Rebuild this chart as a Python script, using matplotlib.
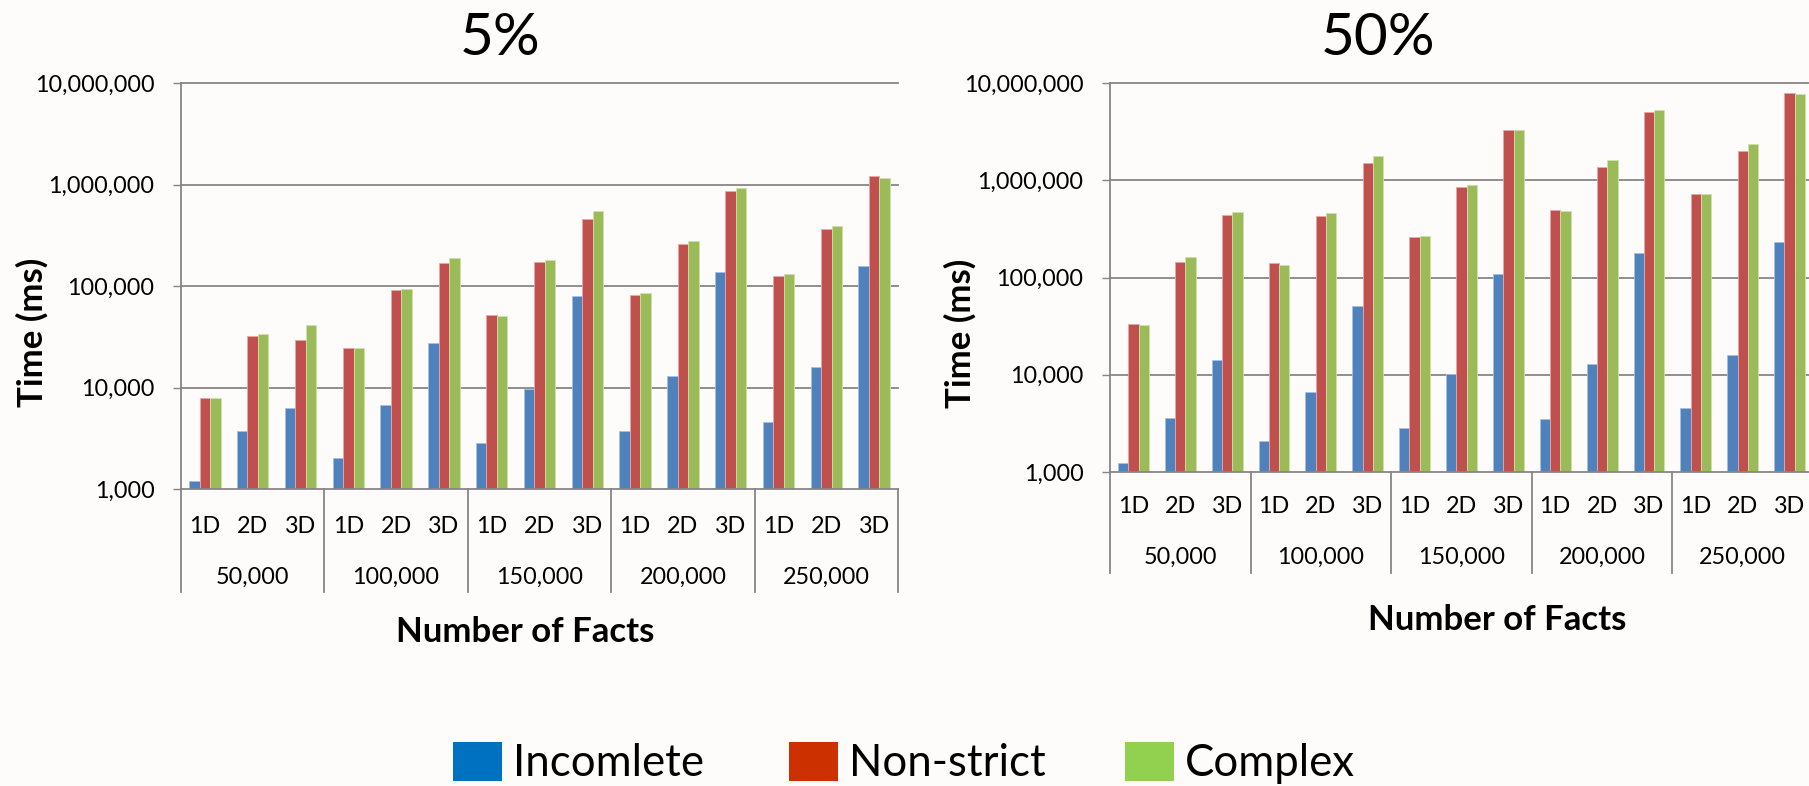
import matplotlib
matplotlib.use("Agg")
import matplotlib.pyplot as plt
from matplotlib.patches import Rectangle

W, H = 1809, 786

facts = ["50,000", "100,000", "150,000", "200,000", "250,000"]
dims = ["1D", "2D", "3D"]
series = ["Incomlete", "Non-strict", "Complex"]

# timings in ms, ordered 50,000/1D, 50,000/2D, 50,000/3D, 100,000/1D, ...
inc_5 = [1210, 3710, 6250, 2020, 6800, 27600, 2840, 9700, 80300,
         3710, 12900, 137000, 4550, 16000, 157000]
non_5 = [7970, 32100, 29300, 24400, 91300, 169000, 51400, 174000, 455000,
         80900, 262000, 866000, 126000, 368000, 1200000]
cpx_5 = [7970, 33300, 41200, 24400, 94100, 189000, 50200, 181000, 554000,
         84700, 278000, 934000, 130000, 391000, 1146000]

inc_50 = [1240, 3570, 14100, 2070, 6710, 51100, 2860, 10100, 109000,
          3510, 12800, 178000, 4560, 16000, 231000]
non_50 = [33600, 144000, 442000, 142000, 431000, 1490000, 262000, 844000, 3280000,
          489000, 1370000, 5070000, 726000, 2010000, 7890000]
cpx_50 = [32600, 162000, 467000, 135000, 459000, 1760000, 264000, 899000, 3260000,
          478000, 1600000, 5320000, 726000, 2360000, 7710000]

yticks = [1e3, 1e4, 1e5, 1e6, 1e7]
ytick_labels = ["1,000", "10,000", "100,000", "1,000,000", "10,000,000"]

bar_colors = ["#4f81bd", "#c0504d", "#9bbb59"]
bar_edges = ["#a7bfe0", "#e6a9a7", "#cfe0ac"]
legend_colors = ["#0070c0", "#cc3000", "#92d050"]
grey = "#868686"
bg = "#fdfcfa"

plt.rcParams["font.family"] = ["Lato", "DejaVu Sans"]

fig = plt.figure(figsize=(W / 100, H / 100), dpi=100, facecolor=bg)


def fx(x):
    return x / W


def fy(y):
    return 1 - y / H


def panel(x0, y0, x1, y1, values, title, title_x, ylab_x, ylab_y,
          xlab_x, xlab_y, dim_off, fact_off, sep_off):
    ax = fig.add_axes([fx(x0), fy(y1), (x1 - x0) / W, (y1 - y0) / H])
    ax.set_facecolor(bg)
    ax.set_yscale("log")
    ax.set_ylim(1e3, 1e7)
    ax.set_xlim(0, 15)
    ah = y1 - y0

    for v in yticks:
        ax.axhline(v, color=grey, lw=1.3, zorder=0.5 if v > 1e3 else 5, clip_on=False)

    width = 0.22
    for k, vals in enumerate(values):
        xs = [i + 0.5 + (k - 1) * width for i in range(15)]
        ax.bar(xs, [v - 1e3 for v in vals], bottom=1e3, width=width,
               color=bar_colors[k], edgecolor=bar_edges[k], linewidth=0.6, zorder=2)

    ax.set_yticks(yticks)
    ax.set_yticklabels(ytick_labels)
    ax.yaxis.set_minor_locator(matplotlib.ticker.NullLocator())
    ax.tick_params(axis="y", length=6, width=1.0, color=grey, pad=13, labelsize=16.8)
    ax.set_xticks([])
    for s in ["top", "right", "bottom"]:
        ax.spines[s].set_visible(False)
    ax.spines["left"].set_color(grey)
    ax.spines["left"].set_linewidth(1.3)

    # two-level category axis below the plot
    trans = ax.get_xaxis_transform()
    for b in range(0, 16, 3):
        ax.plot([b, b], [0, -sep_off / ah], transform=trans, color=grey,
                lw=1.3, clip_on=False)
    for i in range(15):
        ax.text(i + 0.5, -dim_off / ah, dims[i % 3], transform=trans,
                ha="center", va="baseline", fontsize=16.8)
    for g, f in enumerate(facts):
        ax.text(g * 3 + 1.5, -fact_off / ah, f, transform=trans,
                ha="center", va="baseline", fontsize=16.8)

    fig.text(fx(title_x), fy(55), title, ha="center", va="baseline", fontsize=42)
    fig.text(fx(ylab_x), fy(ylab_y), "Time (ms)", rotation=90, ha="center",
             va="center", fontsize=25, fontweight="bold")
    fig.text(fx(xlab_x), fy(xlab_y), "Number of Facts", ha="center",
             va="center", fontsize=25, fontweight="bold")
    return ax


panel(181, 83, 898, 489, [inc_5, non_5, cpx_5], "5%", 500, 32, 332, 525, 632,
      44, 95, 103)
panel(1110, 83, 1813, 472, [inc_50, non_50, cpx_50], "50%", 1378, 960, 333,
      1497, 620, 41, 92, 101)

# legend
patch_x = [453, 789, 1125]
text_x = [513, 849, 1185]
for name, c, px, tx in zip(series, legend_colors, patch_x, text_x):
    fig.patches.append(Rectangle((fx(px), fy(781)), 49 / W, 39 / H,
                                 transform=fig.transFigure, facecolor=c,
                                 edgecolor="none"))
    fig.text(fx(tx), fy(776), name, ha="left", va="baseline", fontsize=31.5)

fig.savefig("out.png", dpi=100, facecolor=bg)
